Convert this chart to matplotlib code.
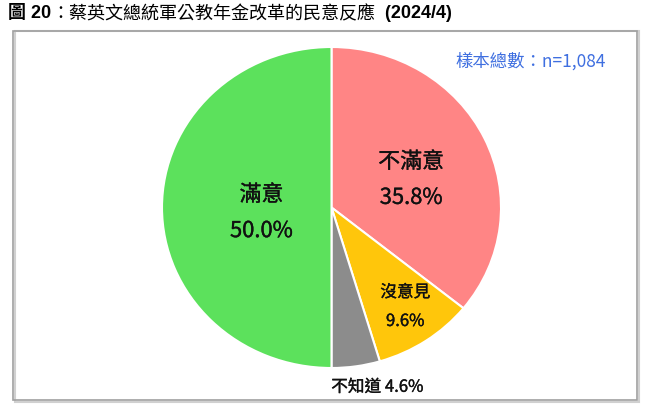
import matplotlib.pyplot as plt
import matplotlib.patheffects as pe
from matplotlib.patches import Rectangle

plt.rcParams['font.family'] = ['Noto Sans CJK TC', 'DejaVu Sans']

labels = ['不滿意', '沒意見', '不知道', '滿意']
values = [35.8, 9.6, 4.6, 50.0]
colors = ['#FF8585', '#FFC60B', '#8C8C8C', '#5CE15C']
sample_text = '樣本總數：n=1,084'

W, H = 656, 409
fig = plt.figure(figsize=(W / 100, H / 100), dpi=100)

# frame around the chart
fig.add_artist(Rectangle((15 / W, 1 - 402 / H), 624 / W, 371 / H,
                         transform=fig.transFigure, fill=False,
                         edgecolor='#D0D0D0', linewidth=1.5))
fig.add_artist(Rectangle((13 / W, 1 - 400 / H), 624 / W, 369 / H,
                         transform=fig.transFigure, fill=False,
                         edgecolor='#A0A0A0', linewidth=1.2))

# pie area (slightly wider than tall, as in the reference)
cx, cy, rx, ry = 331.5, 207.5, 169.5, 160.5
ax = fig.add_axes([(cx - rx) / W, 1 - (cy + ry) / H, 2 * rx / W, 2 * ry / H])
wedges, _ = ax.pie(values, colors=colors, startangle=90, counterclock=False,
                   radius=1, wedgeprops=dict(edgecolor='white', linewidth=1.5))
ax.set_aspect('auto')
ax.set_xlim(-1, 1)
ax.set_ylim(-1, 1)

# in-slice labels, slightly heavier than regular weight
semi = [pe.withStroke(linewidth=0.25, foreground='#111111')]
big = dict(fontsize=15.8, ha='center', va='center', color='#111111', path_effects=semi)
small = dict(fontsize=12, ha='center', va='center', color='#111111', path_effects=semi)
ax.text(0.47, 0.283, labels[0], **big)
ax.text(0.47, 0.06, f'{values[0]:.1f}%', **big)
ax.text(-0.413, 0.078, labels[3], **big)
ax.text(-0.413, -0.147, f'{values[3]:.1f}%', **big)
ax.text(0.435, -0.53, labels[1], **small)
ax.text(0.435, -0.71, f'{values[1]:.1f}%', **small)
ax.text(0.27, -1.12, f'{labels[2]} {values[2]:.1f}%', clip_on=False, **small)

# sample size note
fig.text(531 / W, 1 - 61 / H, sample_text, fontsize=12.5, color='#3F6FE0',
         ha='center', va='center')

# title in three runs (bold / regular / bold)
fig.canvas.draw()
r = fig.canvas.get_renderer()
x = 8 / W
ty = 1 - 14 / H
for s, w, fam in [('圖 20', 'bold', ['Liberation Sans', 'Noto Sans CJK TC']),
                  ('：蔡英文總統軍公教年金改革的民意反應', 'normal', ['Noto Sans CJK TC']),
                  ('  (2024/4)', 'bold', ['Liberation Sans'])]:
    t = fig.text(x, ty, s, fontsize=13, fontweight=w, family=fam,
                 ha='left', va='center', color='black')
    bb = t.get_window_extent(renderer=r)
    x += bb.width / W

fig.savefig('out.png', dpi=100)
